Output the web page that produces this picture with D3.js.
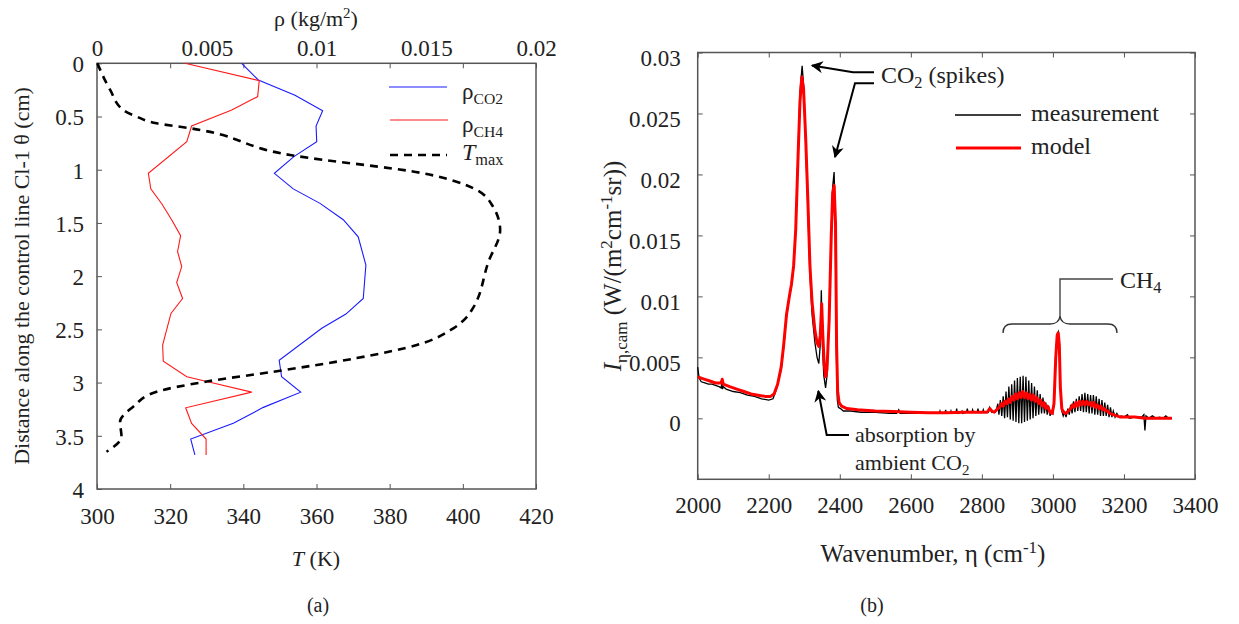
<!DOCTYPE html>
<meta charset="utf-8">
<style>
  body { margin: 0; background: #fff; }
  svg text { font-family: "Liberation Serif", "Times New Roman", serif; fill: #222; }
  .domain { display: none; }
  .tick line { stroke: #555; stroke-width: 1px; }
  .frame { fill: none; stroke: #555; stroke-width: 1.5px; }
</style>
<svg width="1239" height="624"></svg>
<script src="https://cdn.jsdelivr.net/npm/d3@7"></script>
<script>
  // ---- panel (a): profiles along control line ----
  const depth = [0, 0.157, 0.30, 0.445, 0.59, 0.737, 0.877, 1.034, 1.18, 1.316, 1.47, 1.63, 1.896, 2.21, 2.356, 2.49, 2.79, 2.945, 3.09, 3.233, 3.383, 3.531, 3.68];
  const rhoCO2 = [0.00659, 0.00735, 0.00902, 0.01028, 0.00998, 0.01001, 0.00897, 0.00808, 0.00894, 0.01016, 0.01122, 0.0119, 0.01225, 0.01213, 0.01134, 0.01024, 0.0083, 0.00841, 0.00928, 0.00758, 0.00621, 0.00427, 0.00446];

  const depthCH4 = [0, 0.163, 0.313, 0.439, 0.589, 0.737, 1.034, 1.18, 1.32, 1.47, 1.62, 1.77, 1.91, 2.06, 2.21, 2.35, 2.647, 2.80, 2.945, 2.99, 3.09, 3.237, 3.383, 3.531, 3.68];
  const rhoCH4 = [0.00401, 0.00739, 0.00732, 0.00614, 0.00431, 0.00409, 0.00234, 0.00245, 0.00295, 0.0034, 0.00381, 0.00367, 0.00386, 0.00363, 0.0039, 0.00337, 0.00299, 0.00302, 0.00409, 0.005, 0.00705, 0.00404, 0.00431, 0.00497, 0.00497];

  const depthT = [0, 0.25, 0.439, 0.5, 0.564, 0.61, 0.862, 1.034, 1.175, 1.35, 1.567, 1.865, 2.32, 2.387, 2.49, 2.647, 2.77, 2.898, 2.99, 3.086, 3.227, 3.368, 3.509, 3.65];
  const tMax = [300.1, 303.6, 307.2, 310.8, 316.3, 325.4, 352.8, 389.2, 402.9, 408.3, 410.2, 407, 402.4, 401, 397.4, 387.4, 371, 348.2, 330, 316.3, 309.9, 306.3, 306.7, 302.6];

  const depthTicks = [0, 0.5, 1, 1.5, 2, 2.5, 3, 3.5, 4];
  const tempTicks = [300, 320, 340, 360, 380, 400, 420];
  const rhoTicks = [0, 0.005, 0.01, 0.015, 0.02];

  // ---- panel (b): spectra ----
  const etaMeas = [2000, 2004, 2010, 2020, 2030, 2040, 2050, 2060, 2066, 2068, 2070, 2072, 2080, 2100, 2120, 2140, 2160, 2180, 2200, 2212, 2222, 2235, 2242, 2250, 2258, 2264, 2270, 2276, 2282, 2288, 2294, 2299, 2304, 2310, 2316, 2322, 2330, 2336, 2341, 2345, 2348, 2351, 2355, 2360, 2364, 2370, 2376, 2380, 2384, 2387, 2390, 2393, 2396, 2402, 2410, 2430, 2460, 2500, 2540, 2560, 2566, 2570, 2600, 2640, 2680, 2682, 2684, 2696, 2698, 2700, 2711, 2713, 2715, 2727, 2729, 2731, 2742, 2744, 2746, 2757, 2759, 2761, 2772, 2774, 2776, 2787, 2789, 2791, 2802, 2804, 2806, 2818, 2822, 2828, 2836,
    2840, 2845, 2848, 2852, 2856, 2860, 2864, 2868, 2872, 2876, 2880, 2884, 2888, 2892, 2896, 2900, 2904, 2908, 2912, 2916, 2920, 2924, 2928, 2932, 2936, 2940, 2944, 2948, 2952, 2956, 2960, 2964, 2968, 2972, 2976, 2980, 2984, 2988, 2992, 2996, 3000, 3004, 3008, 3012, 3015, 3018, 3021, 3025, 3029, 3033, 3037,
    3042, 3046, 3050, 3054, 3058, 3062, 3066, 3070, 3074, 3078, 3082, 3086, 3090, 3094, 3098, 3102, 3106, 3110, 3114, 3118, 3122, 3126, 3130, 3134, 3138, 3142, 3146, 3150, 3154, 3158, 3162, 3166, 3170, 3175, 3180, 3186, 3192, 3200, 3210, 3215, 3230, 3250, 3256, 3259, 3262, 3270, 3280, 3290, 3300, 3310, 3318, 3325, 3335];
  const intMeas = [0.0042, 0.0033, 0.0030, 0.0029, 0.0028, 0.0028, 0.0027, 0.0026, 0.0025, 0.0029, 0.0024, 0.0026, 0.0024, 0.0022, 0.0021, 0.0019, 0.0018, 0.0016, 0.0015, 0.0016, 0.0024, 0.0040, 0.0058, 0.0083, 0.0099, 0.0109, 0.0124, 0.0155, 0.0215, 0.0268, 0.0289, 0.0270, 0.0225, 0.0172, 0.0118, 0.0085, 0.0062, 0.0050, 0.0045, 0.0060, 0.0105, 0.0060, 0.0035, 0.0025, 0.0035, 0.0080, 0.0155, 0.0190, 0.0202, 0.0170, 0.0060, 0.0015, 0.0009, 0.0008, 0.0006, 0.0006, 0.0005, 0.0005, 0.0004, 0.0004, 0.0007, 0.0004, 0.0004, 0.0004, 0.0004, 0.0006, 0.0004, 0.0004, 0.0007, 0.0004, 0.0004, 0.0006, 0.0004, 0.0004, 0.0008, 0.0004, 0.0005, 0.0006, 0.0004, 0.0005, 0.0008, 0.0005, 0.0005, 0.0007, 0.0005, 0.0005, 0.0008, 0.0005, 0.0005, 0.0007, 0.0005, 0.0005, 0.0009, 0.0005, 0.0005,
    0.0006, 0.0012, 0.0003, 0.0015, 0.0002, 0.0018, 0.0000, 0.0022, 0.0001, 0.0026, -0.0001, 0.0028, -0.0002, 0.0031, -0.0003, 0.0033, -0.0004, 0.0034, -0.0004, 0.0035, -0.0003, 0.0034, -0.0002, 0.0031, -0.0001, 0.0029, 0.0000, 0.0026, 0.0002, 0.0023, 0.0003, 0.0020, 0.0004, 0.0017, 0.0004, 0.0013, 0.0003, 0.0010, 0.0002, 0.0006, 0.0004, 0.0014, 0.0052, 0.0069, 0.0071, 0.0062, 0.0026, 0.0006, 0.0002, 0.0005, 0.0001,
    0.0008, 0.0003, 0.0011, 0.0004, 0.0014, 0.0005, 0.0016, 0.0006, 0.0018, 0.0006, 0.0020, 0.0005, 0.0021, 0.0005, 0.0020, 0.0004, 0.0019, 0.0004, 0.0019, 0.0003, 0.0018, 0.0003, 0.0016, 0.0002, 0.0015, 0.0002, 0.0013, 0.0002, 0.0011, 0.0001, 0.0009, 0.0001, 0.0006, 0.0001, 0.0004, 0.0001, 0.0002, 0.0001, 0.0003, 0.0000, 0.0001, 0.0001, 0.0003, -0.0010, 0.0002, 0.0000, 0.0002, 0.0000, 0.0001, 0.0000, 0.0002, 0.0000, 0.0000];

  const etaModel = [2000, 2010, 2020, 2030, 2040, 2050, 2060, 2063, 2066, 2069, 2072, 2090, 2110, 2130, 2150, 2170, 2190, 2205, 2215, 2225, 2235, 2242, 2250, 2258, 2264, 2270, 2276, 2282, 2288, 2293, 2298, 2304, 2310, 2316, 2322, 2330, 2336, 2341, 2345, 2349, 2352, 2356, 2360, 2364, 2370, 2376, 2380, 2384, 2388, 2391, 2394, 2398, 2405, 2420, 2450, 2500, 2550, 2600, 2650, 2700, 2750, 2800, 2815, 2822, 2828, 2835, 2845,
    2850, 2855, 2860, 2865, 2870, 2875, 2880, 2885, 2890, 2895, 2900, 2905, 2910, 2915, 2920, 2925, 2930, 2935, 2940, 2945, 2950, 2955, 2960, 2965, 2970, 2975, 2980, 2985, 2992, 2998, 3003, 3008, 3012, 3015, 3018, 3021, 3025, 3030, 3035, 3040,
    3050, 3055, 3060, 3065, 3070, 3075, 3080, 3085, 3090, 3095, 3100, 3105, 3110, 3115, 3120, 3125, 3130, 3135, 3140, 3145, 3150, 3155, 3160, 3170, 3180, 3190, 3200, 3230, 3260, 3300, 3335];
  const intModel = [0.0034, 0.0033, 0.0032, 0.0031, 0.0030, 0.0029, 0.0029, 0.0029, 0.0029, 0.0032, 0.0028, 0.0026, 0.0024, 0.0022, 0.0020, 0.0019, 0.0018, 0.0018, 0.0020, 0.0028, 0.0042, 0.0060, 0.0085, 0.0100, 0.0110, 0.0125, 0.0155, 0.0210, 0.0260, 0.0280, 0.0270, 0.0230, 0.0180, 0.0125, 0.0095, 0.0072, 0.0062, 0.0059, 0.0068, 0.0094, 0.0070, 0.0045, 0.0034, 0.0040, 0.0080, 0.0150, 0.0185, 0.0191, 0.0160, 0.0060, 0.0022, 0.0013, 0.0010, 0.0008, 0.0007, 0.0006, 0.00055, 0.0005, 0.00045, 0.00045, 0.0005, 0.0005, 0.0005, 0.0008, 0.0006, 0.0005, 0.0008,
    0.0009, 0.0012, 0.0010, 0.0014, 0.0012, 0.0016, 0.0013, 0.0018, 0.0015, 0.0020, 0.0016, 0.0021, 0.0017, 0.0022, 0.0017, 0.0021, 0.0016, 0.0020, 0.0015, 0.0019, 0.0014, 0.0017, 0.0012, 0.0015, 0.0010, 0.0013, 0.0008, 0.0010, 0.0005, 0.0004, 0.0012, 0.0050, 0.0068, 0.0070, 0.0060, 0.0025, 0.0008, 0.0005, 0.0004, 0.0005,
    0.0008, 0.0011, 0.0009, 0.0013, 0.0010, 0.0014, 0.0011, 0.0014, 0.0011, 0.0014, 0.0011, 0.0013, 0.0010, 0.0013, 0.0009, 0.0011, 0.0008, 0.0010, 0.0007, 0.0008, 0.0006, 0.0006, 0.0004, 0.0003, 0.0002, 0.0001, 0.0001, 0.0001, 0.0000, 0.0000, 0.0000];

  const waveTicks = [2000, 2200, 2400, 2600, 2800, 3000, 3200, 3400];
  const intTicks = [0, 0.005, 0.01, 0.015, 0.02, 0.025, 0.03];

  const FONT = '"Liberation Serif", "Times New Roman", serif';
  const TICK_PX = 23;

  const svg = d3.select("svg");
  const fmt = d => d === 0 ? "0" : String(+d.toFixed(3));

  function styleAxis(g) {
    g.attr("font-family", null).attr("font-size", null);
    g.selectAll(".tick text")
      .style("font-family", FONT)
      .style("font-size", TICK_PX + "px")
      .attr("fill", "#222");
  }

  // text with sub/superscripts: parts = [[text, "sub"|"sup"|null, italic]]
  function richText(g, x, y, parts, size, anchor, rotate) {
    const t = g.append("text")
      .attr("x", x).attr("y", y)
      .attr("text-anchor", anchor || "start")
      .style("font-family", FONT)
      .style("font-size", size + "px");
    if (rotate) t.attr("transform", `rotate(${rotate},${x},${y})`);
    let shift = 0;
    parts.forEach(([s, kind, ital]) => {
      const sp = t.append("tspan").text(s);
      let target = 0;
      if (kind === "sub") { sp.style("font-size", (size * 0.68) + "px"); target = size * 0.22; }
      if (kind === "sup") { sp.style("font-size", (size * 0.68) + "px"); target = -size * 0.38; }
      if (target !== shift) { sp.attr("dy", target - shift); shift = target; }
      if (ital) sp.style("font-style", "italic");
    });
    return t;
  }

  // ================= panel (a) =================
  const xT = d3.scaleLinear().domain([300, 420]).range([97, 536]);
  const xRho = d3.scaleLinear().domain([0, 0.02]).range([97, 536]);
  const yD = d3.scaleLinear().domain([0, 4]).range([63.3, 489]);

  const ga = svg.append("g");

  ga.append("g")
    .attr("transform", "translate(0,489)")
    .call(d3.axisBottom(xT).tickValues(tempTicks).tickSizeInner(-5).tickSizeOuter(0).tickPadding(19))
    .call(styleAxis);
  ga.append("g")
    .attr("transform", "translate(0,63.3)")
    .call(d3.axisTop(xT).tickValues(tempTicks).tickSizeInner(-5).tickSizeOuter(0).tickFormat(""));
  ga.append("g")
    .attr("transform", "translate(0,63.3)")
    .call(d3.axisTop(xRho).tickValues(rhoTicks).tickSize(0).tickPadding(7).tickFormat(fmt))
    .call(styleAxis);
  ga.append("g")
    .attr("transform", "translate(97,0)")
    .call(d3.axisLeft(yD).tickValues(depthTicks).tickSizeInner(-5).tickSizeOuter(0).tickPadding(13).tickFormat(fmt))
    .call(styleAxis)
    .selectAll(".tick text").attr("dy", "0.36em");

  ga.append("rect").attr("class", "frame")
    .attr("x", 97).attr("y", 63.3).attr("width", 439).attr("height", 489 - 63.3);

  ga.append("path").datum(depth.map((d, i) => [rhoCO2[i], d]))
    .attr("fill", "none").attr("stroke", "#1a1aff").attr("stroke-width", 1.1)
    .attr("d", d3.line().x(d => xRho(d[0])).y(d => yD(d[1])));
  ga.append("path").datum(depthCH4.map((d, i) => [rhoCH4[i], d]))
    .attr("fill", "none").attr("stroke", "#ff1a1a").attr("stroke-width", 1.1)
    .attr("d", d3.line().x(d => xRho(d[0])).y(d => yD(d[1])));
  ga.append("path").datum(depthT.map((d, i) => [tMax[i], d]))
    .attr("fill", "none").attr("stroke", "#000").attr("stroke-width", 2.6)
    .attr("stroke-dasharray", "8,6")
    .attr("d", d3.line().curve(d3.curveMonotoneY).x(d => xT(d[0])).y(d => yD(d[1])));

  // legend (a)
  ga.append("line").attr("x1", 389).attr("x2", 447).attr("y1", 87).attr("y2", 87)
    .attr("stroke", "#1a1aff").attr("stroke-width", 1.1);
  ga.append("line").attr("x1", 390).attr("x2", 448).attr("y1", 120).attr("y2", 120)
    .attr("stroke", "#ff1a1a").attr("stroke-width", 1.1);
  ga.append("line").attr("x1", 390).attr("x2", 447).attr("y1", 155).attr("y2", 155)
    .attr("stroke", "#000").attr("stroke-width", 2.6).attr("stroke-dasharray", "8,6");
  richText(ga, 462, 99, [["ρ"], ["CO2", "sub"]], 23);
  richText(ga, 462, 132, [["ρ"], ["CH4", "sub"]], 23);
  richText(ga, 462, 160, [["T", null, true], ["max", "sub"]], 24);

  richText(ga, 316, 26, [["ρ (kg/m"], ["2", "sup"], [")", null]], 22, "middle");
  richText(ga, 316, 566, [["T", null, true], [" (K)"]], 22, "middle");
  richText(ga, 29, 276, [["Distance along the control line Cl-1 θ (cm)"]], 22, "middle", -90);
  richText(ga, 318, 612, [["(a)"]], 20, "middle");

  // ================= panel (b) =================
  const xW = d3.scaleLinear().domain([2000, 3400]).range([697.7, 1195]);
  const yI = d3.scaleLinear().domain([-0.005, 0.03]).range([479.3, 52.5]);

  const gb = svg.append("g");

  gb.append("g")
    .attr("transform", "translate(0,479.3)")
    .call(d3.axisBottom(xW).tickValues(waveTicks).tickSizeInner(-5).tickSizeOuter(0).tickPadding(17).tickFormat(d3.format("d")))
    .call(styleAxis);
  gb.append("g")
    .attr("transform", "translate(0,52.5)")
    .call(d3.axisTop(xW).tickValues(waveTicks).tickSizeInner(-5).tickSizeOuter(0).tickFormat(""));
  gb.append("g")
    .attr("transform", "translate(697.7,0)")
    .call(d3.axisLeft(yI).tickValues(intTicks).tickSizeInner(-5).tickSizeOuter(0).tickPadding(17).tickFormat(fmt))
    .call(styleAxis)
    .selectAll(".tick text").attr("dy", "0.55em");
  gb.append("g")
    .attr("transform", "translate(1195,0)")
    .call(d3.axisRight(yI).tickValues(intTicks).tickSizeInner(-5).tickSizeOuter(0).tickFormat(""));

  gb.append("rect").attr("class", "frame")
    .attr("x", 697.7).attr("y", 52.5).attr("width", 1195 - 697.7).attr("height", 479.3 - 52.5);

  const specLine = d3.line().x(d => xW(d[0])).y(d => yI(d[1]));
  gb.append("path").datum(etaMeas.map((e, i) => [e, intMeas[i]]))
    .attr("fill", "none").attr("stroke", "#000").attr("stroke-width", 1.3)
    .attr("d", specLine);
  gb.append("path").datum(etaModel.map((e, i) => [e, intModel[i]]))
    .attr("fill", "none").attr("stroke", "#ff0000").attr("stroke-width", 3)
    .attr("stroke-linejoin", "round")
    .attr("d", specLine);

  // legend (b)
  gb.append("line").attr("x1", 955).attr("x2", 1021).attr("y1", 115).attr("y2", 115)
    .attr("stroke", "#000").attr("stroke-width", 1.3);
  gb.append("line").attr("x1", 956).attr("x2", 1021).attr("y1", 148).attr("y2", 148)
    .attr("stroke", "#ff0000").attr("stroke-width", 3);
  richText(gb, 1031, 121, [["measurement"]], 24);
  richText(gb, 1031, 154, [["model"]], 24);

  // annotations
  const arrowCol = "#000";
  svg.append("defs").append("marker")
    .attr("id", "ah").attr("viewBox", "0 0 10 10").attr("refX", 9).attr("refY", 5)
    .attr("markerWidth", 6).attr("markerHeight", 6).attr("orient", "auto")
    .append("path").attr("d", "M0,0 L10,5 L0,10 L3,5 Z").attr("fill", arrowCol);

  const poly = (pts) => gb.append("polyline").attr("points", pts.map(p => p.join(",")).join(" "))
    .attr("fill", "none").attr("stroke", arrowCol).attr("stroke-width", 2).attr("marker-end", "url(#ah)");
  poly([[874, 72.3], [853, 72.3], [812, 65.5]]);
  poly([[874, 83.3], [855, 83.3], [835, 157]]);
  poly([[849, 435], [826.7, 435], [818.3, 391]]);

  richText(gb, 881, 83, [["CO"], ["2", "sub"], [" (spikes)", null]], 24);
  richText(gb, 855, 442, [["absorption by"]], 22);
  richText(gb, 855, 470, [["ambient CO"], ["2", "sub"]], 22);

  gb.append("path")
    .attr("d", "M1003,333 Q1003,324 1012,324 L1050,324 Q1059,324 1060,316 Q1061,324 1070,324 L1108,324 Q1117,324 1117,333")
    .attr("fill", "none").attr("stroke", "#333").attr("stroke-width", 1.4);
  gb.append("polyline").attr("points", "1060,316 1060,279 1113,279")
    .attr("fill", "none").attr("stroke", "#444").attr("stroke-width", 1.4);
  richText(gb, 1120, 288, [["CH"], ["4", "sub"]], 24);

  richText(gb, 933, 562, [["Wavenumber, η (cm"], ["-1", "sup"], [")", null]], 25, "middle");
  richText(gb, 621, 266, [["I", null, true], ["η,cam", "sub"], ["   (W/(m"], ["2", "sup"], ["cm"], ["-1", "sup"], ["sr))"]], 25, "middle", -90);
  richText(gb, 872, 612, [["(b)"]], 20, "middle");
</script>
